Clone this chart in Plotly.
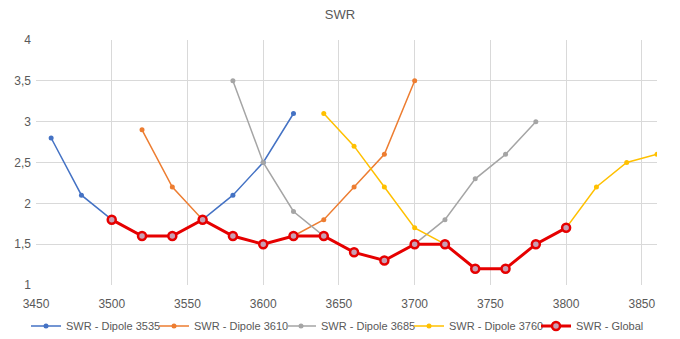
import plotly.graph_objects as go

x_3535 = [3460, 3480, 3500, 3520, 3540, 3560, 3580, 3600, 3620]
y_3535 = [2.8, 2.1, 1.8, 1.6, 1.6, 1.8, 2.1, 2.5, 3.1]

x_3610 = [3520, 3540, 3560, 3580, 3600, 3620, 3640, 3660, 3680, 3700]
y_3610 = [2.9, 2.2, 1.8, 1.6, 1.5, 1.6, 1.8, 2.2, 2.6, 3.5]

x_3685 = [3580, 3600, 3620, 3640, 3660, 3680, 3700, 3720, 3740, 3760, 3780]
y_3685 = [3.5, 2.5, 1.9, 1.6, 1.4, 1.3, 1.5, 1.8, 2.3, 2.6, 3.0]

x_3760 = [3640, 3660, 3680, 3700, 3720, 3740, 3760, 3780, 3800, 3820, 3840, 3860]
y_3760 = [3.1, 2.7, 2.2, 1.7, 1.5, 1.2, 1.2, 1.5, 1.7, 2.2, 2.5, 2.6]

x_global = [3500, 3520, 3540, 3560, 3580, 3600, 3620, 3640, 3660, 3680, 3700, 3720, 3740, 3760, 3780, 3800]
y_global = [1.8, 1.6, 1.6, 1.8, 1.6, 1.5, 1.6, 1.6, 1.4, 1.3, 1.5, 1.5, 1.2, 1.2, 1.5, 1.7]

series = [
    ("SWR - Dipole 3535", x_3535, y_3535, "#4472C4"),
    ("SWR - Dipole 3610", x_3610, y_3610, "#ED7D31"),
    ("SWR - Dipole 3685", x_3685, y_3685, "#A5A5A5"),
    ("SWR - Dipole 3760", x_3760, y_3760, "#FFC000"),
]

font = "Liberation Sans, Arial, sans-serif"
legend_names = ["legend", "legend2", "legend3", "legend4", "legend5"]
legend_left_px = [26, 154, 281, 409, 536]

fig = go.Figure()
for i, (name, xs, ys, c) in enumerate(series):
    fig.add_trace(go.Scatter(x=xs, y=ys, name=name, mode="lines+markers",
                             line=dict(color=c, width=1.5),
                             marker=dict(color=c, size=5, symbol="circle"),
                             legend=legend_names[i]))

fig.add_trace(go.Scatter(x=x_global, y=y_global, name="SWR - Global", mode="lines+markers",
                         line=dict(color="#E60000", width=3),
                         marker=dict(color="#C8A0B4", size=8, symbol="circle",
                                     line=dict(color="#E60000", width=2.5)),
                         legend=legend_names[4]))

legend_layouts = {}
for ln, lx in zip(legend_names, legend_left_px):
    legend_layouts[ln] = dict(orientation="h", xref="container", yref="container",
                              x=lx / 680, xanchor="left", y=1 - 326 / 339, yanchor="middle",
                              font=dict(family=font, size=11, color="#595959"),
                              itemwidth=30, bgcolor="rgba(0,0,0,0)")

fig.update_layout(
    width=680, height=339,
    margin=dict(l=36, r=23, t=40, b=54, autoexpand=False),
    paper_bgcolor="white", plot_bgcolor="white",
    separators=", ",
    title=dict(text="SWR", x=0.5, xanchor="center", y=0.958, yanchor="middle",
               font=dict(family=font, size=13, color="#595959")),
    font=dict(family=font, size=12, color="#595959"),
    xaxis=dict(range=[3450, 3860], dtick=50, tick0=3450, showgrid=True,
               gridcolor="#D9D9D9", gridwidth=1, zeroline=False, showline=False,
               ticks="", ticklabelstandoff=10, automargin=False,
               tickfont=dict(size=12, color="#595959")),
    yaxis=dict(range=[1, 4], dtick=0.5, showgrid=True, gridcolor="#D9D9D9",
               gridwidth=1, zeroline=False, showline=False, ticks="",
               ticklabelstandoff=4, automargin=False,
               tickformat=".1~f", tickfont=dict(size=12, color="#595959")),
    showlegend=True,
    **legend_layouts,
)

fig.write_html("out.html")
